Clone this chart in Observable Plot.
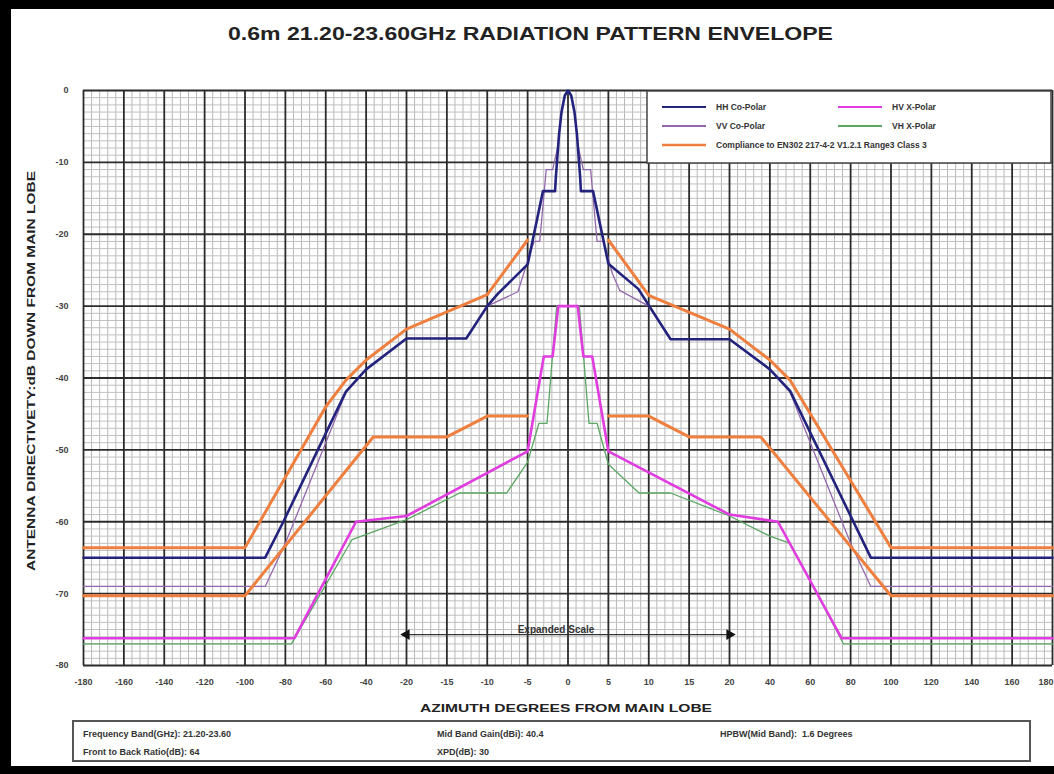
<!DOCTYPE html>
<html><head><meta charset="utf-8">
<script src="https://cdn.jsdelivr.net/npm/d3@7"></script>
<script src="https://cdn.jsdelivr.net/npm/@observablehq/plot@0.6"></script>
<style>
html,body{margin:0;padding:0;background:#000;width:1054px;height:774px;overflow:hidden;}
#panel{position:absolute;left:11px;top:9px;width:1043px;height:757px;background:#fff;}
#chart{position:absolute;left:0;top:0;}
#overlay{position:absolute;left:0;top:0;pointer-events:none;}
</style></head><body>
<div id="panel"></div>
<div id="chart"></div>
<svg id="overlay" width="1054" height="774"></svg>
<script>
// ---- tick labels ----
const xTicks = [-180,-160,-140,-120,-100,-80,-60,-40,-20,-15,-10,-5,0,5,10,15,20,40,60,80,100,120,140,160,180];
const yTicks = [0,-10,-20,-30,-40,-50,-60,-70,-80];

// ---- series (azimuth deg, dB) ----
const hhX = [-180,-90,-81,-60,-50,-40,-20,-12.6,-10,-8.7,-5,-3.1,-1.6,-1.5,-1.3,-1.1,-0.8,-0.4,0,0.4,0.8,1.1,1.3,1.5,1.6,3.1,5,8.7,12.7,20,40,50,90,180];
const hhY = [-65,-65,-60,-47.7,-41.9,-38.8,-34.5,-34.5,-30,-28.3,-24.2,-14,-14,-12,-9,-6,-3,-0.7,0,-0.7,-3,-6,-9,-12,-14,-14,-24.1,-27.6,-34.6,-34.6,-38.8,-41.8,-65,-65];

const vvX = [-180,-90,-80,-70,-60,-50,-40,-20,-12.6,-10,-6.2,-5.5,-4.2,-3.5,-2.7,-1.9,-1.3,-1.1,-0.8,-0.4,0,0.4,0.8,1.1,1.3,1.9,2.8,3.6,4.4,5.5,6.4,10,12.7,20,40,50,60,70,80,90,180];
const vvY = [-69,-69,-63,-56,-49,-42,-38.8,-34.5,-34.5,-30,-28,-25.5,-21,-21,-11,-11,-8,-6,-3,-0.7,0,-0.7,-3,-6,-8,-11,-11,-21,-21,-25.5,-27.8,-30,-34.6,-34.6,-38.8,-42,-49,-56,-63,-69,-69];

const hvX = [-180,-75.5,-45,-20,-5,-3,-1.9,-1.2,1.2,1.9,3,5,20,44,75.5,180];
const hvY = [-76.2,-76.2,-60,-59.2,-50.2,-37,-37,-30,-30,-37,-37,-50.2,-59,-60,-76.2,-76.2];

const vhX = [-180,-77,-47,-20,-13.4,-7.6,-5,-3.6,-2.6,-2,-1.4,1.4,2,2.6,3.6,5,8.8,12.7,20,40,50,76.5,180];
const vhY = [-77,-77,-62.5,-59.7,-56,-56,-51.7,-46.3,-46.3,-38,-30,-30,-38,-46.3,-46.3,-52,-56,-56,-59.2,-62,-63,-77,-77];

// compliance envelope (co-polar part, left and right)
const cuLX = [-180,-100,-60,-50,-40,-20,-10,-5];
const cuLY = [-63.6,-63.6,-44,-40.3,-37.5,-33.2,-28.4,-20.8];
const cuRX = [5,10,20,40,50,100,180];
const cuRY = [-20.8,-28.5,-33.2,-37.5,-40.3,-63.6,-63.6];
// compliance envelope (cross-polar part)
const clLX = [-180,-100,-36.5,-15,-10,-5];
const clLY = [-70.3,-70.3,-48.2,-48.2,-45.3,-45.3];
const clRX = [5,10,15,35.5,100,180];
const clRY = [-45.3,-45.3,-48.2,-48.2,-70.3,-70.3];

// annotation
const expandedSpan = [-20, 20];
const expandedLevel = -75.7;
const expandedLabel = "Expanded Scale";

const seriesNames = ["HH Co-Polar","VV Co-Polar","HV X-Polar","VH X-Polar","Compliance to EN302 217-4-2 V1.2.1 Range3 Class 3"];
const colors = {hh:"#23237e", vv:"#9468ad", hv:"#e03ce0", vh:"#5aa662", comp:"#ef7f3e"};

const zip = (xs, ys) => xs.map((x,i)=>({x, y: ys[i]}));

// minor grid derived from ticks
const minorX = [];
for (let i=0;i<xTicks.length-1;i++){const a=xTicks[i], b=xTicks[i+1]; for(let k=1;k<5;k++) minorX.push(a+(b-a)*k/5);}
const minorY = d3.range(-80,1).filter(v=>v%10!==0);

const fmt = d => String(d);
const tickText = {fontSize:9, fontWeight:"bold", fill:"#444"};
const plot = Plot.plot({
  width:1054, height:774,
  marginTop:90, marginBottom:109, marginLeft:83, marginRight:2,
  style:{background:"transparent", fontFamily:"'Liberation Sans', Arial, sans-serif"},
  x:{type:"linear", domain:[-180,-20,20,180], range:[83,406,729,1052], axis:null},
  y:{domain:[-80,0], axis:null},
  marks:[
    Plot.ruleX(minorX,{stroke:"#b8b8b8", strokeWidth:1}),
    Plot.ruleY(minorY,{stroke:"#c0c0c0", strokeWidth:1}),
    Plot.ruleX(xTicks,{stroke:"#2b2b2b", strokeWidth:1.8}),
    Plot.ruleY(yTicks,{stroke:"#2b2b2b", strokeWidth:1.8}),
    Plot.text(xTicks.slice(0,-1),{x:d=>d, frameAnchor:"bottom", dy:19, text:fmt, ...tickText}),
    Plot.text(xTicks.slice(-1),{x:d=>d, frameAnchor:"bottom", dy:19, dx:1, textAnchor:"end", text:fmt, ...tickText}),
    Plot.axisY(yTicks,{tickSize:0, tickPadding:15, tickFormat:fmt, ...tickText, label:null}),
    Plot.line(zip(vhX,vhY),{x:"x",y:"y",stroke:colors.vh,strokeWidth:1.3}),
    Plot.line(zip(hvX,hvY),{x:"x",y:"y",stroke:colors.hv,strokeWidth:2.6}),
    Plot.line(zip(vvX,vvY),{x:"x",y:"y",stroke:colors.vv,strokeWidth:1.3}),
    Plot.line(zip(hhX,hhY),{x:"x",y:"y",stroke:colors.hh,strokeWidth:2.6}),
    Plot.line(zip(cuLX,cuLY),{x:"x",y:"y",stroke:colors.comp,strokeWidth:3}),
    Plot.line(zip(cuRX,cuRY),{x:"x",y:"y",stroke:colors.comp,strokeWidth:3}),
    Plot.line(zip(clLX,clLY),{x:"x",y:"y",stroke:colors.comp,strokeWidth:3}),
    Plot.line(zip(clRX,clRY),{x:"x",y:"y",stroke:colors.comp,strokeWidth:3}),
    Plot.ruleY([expandedLevel],{x1:expandedSpan[0], x2:expandedSpan[1], stroke:"#333", strokeWidth:1.2}),
    Plot.dot([{x:expandedSpan[0], y:expandedLevel, r:-90},{x:expandedSpan[1], y:expandedLevel, r:90}],
      {x:"x", y:"y", rotate:"r", dx:0, symbol:"triangle", r:4, fill:"#111", stroke:"none"}),
    Plot.text([{x:(expandedSpan[0]+expandedSpan[1])/2, y:expandedLevel}],{x:"x",y:"y",text:()=>expandedLabel, dx:-12, dy:-5, fontSize:10, fontWeight:"bold", fill:"#333"})
  ]
});
document.getElementById("chart").appendChild(plot);

// ---- overlay texts, legend, info box ----
const ov = d3.select("#overlay");
const FN = "'Liberation Sans Narrow','Arial Narrow','Liberation Sans',Arial,sans-serif";
ov.append("text").attr("x",228).attr("y",40).attr("textLength",605).attr("lengthAdjust","spacingAndGlyphs")
  .attr("font-family",FN).attr("font-weight","bold").attr("font-size",18).attr("fill","#222")
  .text("0.6m 21.20-23.60GHz  RADIATION PATTERN ENVELOPE");
ov.append("text").attr("transform","translate(35,371) rotate(-90)").attr("text-anchor","middle")
  .attr("textLength",400).attr("lengthAdjust","spacingAndGlyphs")
  .attr("font-family","'Liberation Sans',Arial,sans-serif").attr("font-weight","bold").attr("font-size",10).attr("fill","#222")
  .text("ANTENNA DIRECTIVETY:dB DOWN FROM MAIN LOBE");
ov.append("text").attr("x",566).attr("y",712).attr("text-anchor","middle").attr("textLength",292).attr("lengthAdjust","spacingAndGlyphs")
  .attr("font-family","'Liberation Sans',Arial,sans-serif").attr("font-weight","bold").attr("font-size",11).attr("fill","#222")
  .text("AZIMUTH DEGREES FROM MAIN LOBE");

// legend
const lg = ov.append("g");
lg.append("rect").attr("x",647).attr("y",91).attr("width",404).attr("height",72).attr("fill","#fff").attr("stroke","#444").attr("stroke-width",1.5);
const legendItems = [
  {name:seriesNames[0], c:colors.hh, x:662, y:107, w:2},
  {name:seriesNames[2], c:colors.hv, x:838, y:107, w:2},
  {name:seriesNames[1], c:colors.vv, x:662, y:126, w:2},
  {name:seriesNames[3], c:colors.vh, x:838, y:126, w:2},
  {name:seriesNames[4], c:colors.comp, x:662, y:145, w:2.5}
];
legendItems.forEach(d=>{
  lg.append("line").attr("x1",d.x).attr("x2",d.x+44).attr("y1",d.y).attr("y2",d.y).attr("stroke",d.c).attr("stroke-width",d.w);
  lg.append("text").attr("x",d.x+54).attr("y",d.y+3).attr("font-family","'Liberation Sans',Arial,sans-serif").attr("font-weight","bold")
    .attr("font-size",8.5).attr("fill","#333").text(d.name);
});

// info box
const ib = ov.append("g");
ib.append("rect").attr("x",73).attr("y",721).attr("width",957).attr("height",40).attr("fill","none").attr("stroke","#555").attr("stroke-width",2);
const info = [
  {t:"Frequency Band(GHz): 21.20-23.60", x:83, y:737},
  {t:"Mid Band Gain(dBi): 40.4", x:437, y:737},
  {t:"HPBW(Mid Band):  1.6 Degrees", x:720, y:737},
  {t:"Front to Back Ratio(dB): 64", x:83, y:755},
  {t:"XPD(dB): 30", x:437, y:755}
];
info.forEach(d=>{
  ib.append("text").attr("x",d.x).attr("y",d.y).attr("font-family","'Liberation Sans',Arial,sans-serif").attr("font-weight","bold")
    .attr("font-size",9).attr("fill","#333").attr("xml:space","preserve").style("white-space","pre").text(d.t);
});
</script>
</body></html>
